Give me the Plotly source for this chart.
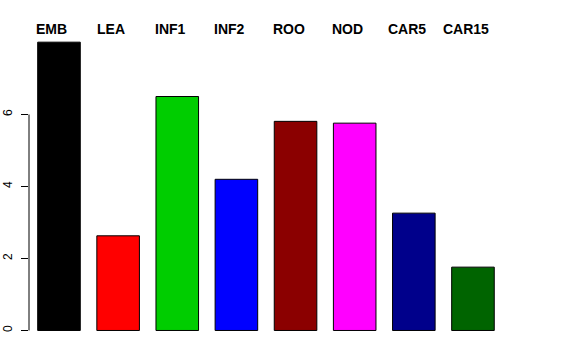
import plotly.graph_objects as go

categories = ["EMB", "LEA", "INF1", "INF2", "ROO", "NOD", "CAR5", "CAR15"]
values = [8.01, 2.63, 6.5, 4.2, 5.81, 5.76, 3.26, 1.76]
colors = ["#000000", "#FF0000", "#00CD00", "#0000FF", "#8B0000", "#FF00FF", "#00008B", "#006400"]
y_ticks = [0, 2, 4, 6]

fig = go.Figure()
fig.add_trace(go.Bar(
    x=categories, y=values,
    marker=dict(color=colors, line=dict(color="black", width=1)),
    showlegend=False, hoverinfo="skip",
))

for c in categories:
    fig.add_annotation(
        x=c, xref="x", y=1, yref="paper", yshift=2, xshift=-7,
        text="<b>%s</b>" % c, showarrow=False, yanchor="middle", xanchor="center",
        font=dict(family="Liberation Sans, Arial, sans-serif", size=14, color="black"),
    )

# y-axis line spanning only the tick range (R style)
fig.add_shape(type="line", xref="paper", yref="y", x0=0, x1=0,
              y0=min(y_ticks), y1=max(y_ticks), line=dict(color="black", width=1))

fig.update_layout(
    width=576, height=360,
    margin=dict(l=29, r=10, t=31, b=18, autoexpand=False),
    plot_bgcolor="white", paper_bgcolor="white",
    bargap=0.28,
    font=dict(family="Liberation Sans, Arial, sans-serif", color="black"),
)
fig.update_xaxes(range=[-0.507, 8.573], showticklabels=False, ticks="", showgrid=False,
                 zeroline=False, showline=False, automargin=False)
fig.update_yaxes(range=[-0.32, 8.32], tickvals=y_ticks, ticktext=[str(v) for v in y_ticks],
                 ticks="outside", ticklen=7, tickcolor="black", tickwidth=1,
                 tickangle=-90, tickfont=dict(size=12, color="black"),
                 ticklabelstandoff=4, automargin=False,
                 showgrid=False, zeroline=False, showline=False)

fig.write_html("out.html", config={"displayModeBar": False},
               post_script="document.body.style.margin='0';")
